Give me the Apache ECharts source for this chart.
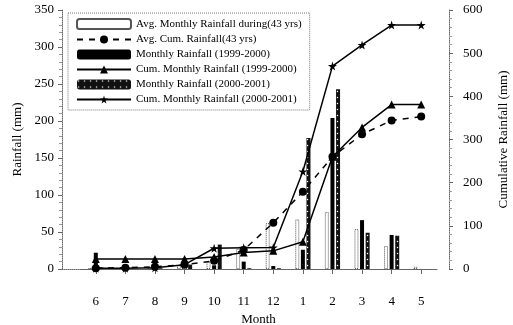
<!DOCTYPE html>
<html>
<head>
<meta charset="utf-8">
<script src="https://cdn.jsdelivr.net/npm/echarts@6/dist/echarts.min.js"></script>
<style>html,body{margin:0;padding:0;background:#fff;}#c{width:513px;height:325px;}</style>
</head>
<body>
<div id="c"></div>
<script>
const months = ['6','7','8','9','10','11','12','1','2','3','4','5'];
const avgMonthly = [1,1,2,5,10,27,62,67,77,54,31,3];
const avgCum = [2,3,5,10,19,44,107,179,260,312,344,353];
const monthly9900 = [22,0,0,0,5,10,4,26,204,66,46,0];
const cum9900 = [23,23,23,23,28,38,42,63,260,328,381,381];
const monthly0001 = [2,0,1,6,33,1,1,177,243,49,45,0];
const cum0001 = [2,2,3,10,48,49,50,226,470,519,565,565];
const leftTicks = [0,350,50];
const rightTicks = [0,600,100];

const FONT = '"Liberation Serif", "Times New Roman", serif';
const star = 'path://M50,0 L61,35 L98,35 L68,57 L79,91 L50,70 L21,91 L32,57 L2,35 L39,35 Z';
const chart = echarts.init(document.getElementById('c'), null, {renderer:'canvas'});
const axisLine = {show:true, lineStyle:{color:'#666', type:'dotted', width:1}};
chart.setOption({
  animation:false,
  backgroundColor:'#fff',
  textStyle:{fontFamily:FONT, color:'#000'},
  grid:[
    {left:81, right:77, top:10, bottom:56, containLabel:false, outerBoundsMode:'none'},
    {left:62, right:76, top:10, bottom:56, containLabel:false, outerBoundsMode:'none'}
  ],
  legend:{
    orient:'vertical', left:68, top:13,
    padding:[5,8,5,8], itemWidth:54, itemHeight:10, itemGap:4,
    borderColor:'#777', borderWidth:1, borderType:'dotted', backgroundColor:'#fff',
    textStyle:{fontFamily:FONT, fontSize:11, color:'#000'},
    data:['Avg. Monthly Rainfall during(43 yrs)','Avg. Cum. Rainfall(43 yrs)','Monthly Rainfall (1999-2000)','Cum. Monthly Rainfall (1999-2000)','Monthly Rainfall (2000-2001)','Cum. Monthly Rainfall (2000-2001)']
  },
  xAxis:[
    {type:'category', gridIndex:0, data:months, boundaryGap:true,
     name:'Month', nameLocation:'middle', nameGap:43,
     nameTextStyle:{fontFamily:FONT, fontSize:13, color:'#000'},
     axisLine:axisLine,
     axisTick:{show:true, alignWithLabel:true, length:5, lineStyle:{color:'#666'}},
     axisLabel:{fontFamily:FONT, fontSize:13, color:'#000', margin:26},
     splitLine:{show:false}},
    {type:'value', gridIndex:1, min:0, max:1,
     axisLine:axisLine, axisTick:{show:false}, axisLabel:{show:false}, splitLine:{show:false}}
  ],
  yAxis:[
    {type:'value', gridIndex:0, position:'left', offset:19,
     min:leftTicks[0], max:leftTicks[1], interval:leftTicks[2],
     name:'Rainfall (mm)', nameLocation:'middle', nameGap:38, nameRotate:90,
     nameTextStyle:{fontFamily:FONT, fontSize:13, color:'#000'},
     axisLine:axisLine,
     axisTick:{show:true, length:4, lineStyle:{color:'#666'}},
     minorTick:{show:true, splitNumber:5, length:3, lineStyle:{color:'#999'}},
     axisLabel:{fontFamily:FONT, fontSize:13, color:'#000', margin:8},
     splitLine:{show:false}},
    {type:'value', gridIndex:0, position:'right', offset:13,
     min:rightTicks[0], max:rightTicks[1], interval:rightTicks[2],
     name:'Cumulative Rainfall (mm)', nameLocation:'middle', nameGap:48, nameRotate:90,
     nameTextStyle:{fontFamily:FONT, fontSize:13, color:'#000'},
     axisLine:axisLine,
     axisTick:{show:true, length:4, lineStyle:{color:'#666'}},
     minorTick:{show:true, splitNumber:5, length:3, lineStyle:{color:'#999'}},
     axisLabel:{fontFamily:FONT, fontSize:13, color:'#000', margin:14},
     splitLine:{show:false}},
    {type:'value', gridIndex:1, show:false, min:0, max:1}
  ],
  series:[
    {name:'Avg. Monthly Rainfall during(43 yrs)', type:'bar', xAxisIndex:0, yAxisIndex:0,
     data:avgMonthly, barWidth:4, barGap:'40%',
     itemStyle:{color:'#fff', borderColor:'#555', borderWidth:1, borderType:'dotted'}},
    {name:'Avg. Cum. Rainfall(43 yrs)', type:'line', xAxisIndex:0, yAxisIndex:1,
     data:avgCum, symbol:'circle', symbolSize:8,
     lineStyle:{color:'#000', width:1.5, type:[6,6]}, itemStyle:{color:'#000'}, z:3},
    {name:'Monthly Rainfall (1999-2000)', type:'bar', xAxisIndex:0, yAxisIndex:0,
     data:monthly9900, barWidth:4, barGap:'40%',
     itemStyle:{color:'#000'}},
    {name:'Cum. Monthly Rainfall (1999-2000)', type:'line', xAxisIndex:0, yAxisIndex:1,
     data:cum9900, symbol:'triangle', symbolSize:8,
     lineStyle:{color:'#000', width:1.5}, itemStyle:{color:'#000'}, z:3},
    {name:'Monthly Rainfall (2000-2001)', type:'bar', xAxisIndex:0, yAxisIndex:0,
     data:monthly0001, barWidth:4, barGap:'40%',
     itemStyle:{color:'#111', decal:{symbol:'circle', symbolSize:0.5, color:'#fff', dashArrayX:3, dashArrayY:3, rotation:0}}},
    {name:'Cum. Monthly Rainfall (2000-2001)', type:'line', xAxisIndex:0, yAxisIndex:1,
     data:cum0001, symbol:star, symbolSize:9,
     lineStyle:{color:'#000', width:1.5}, itemStyle:{color:'#000'}, z:3}
  ]
});
</script>
</body>
</html>
